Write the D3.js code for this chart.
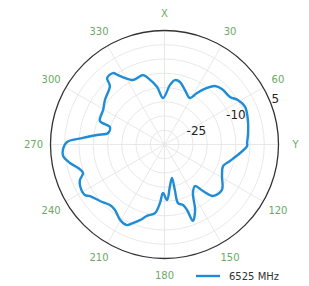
<!DOCTYPE html>
<html>
<head>
<meta charset="utf-8">
<script src="https://cdn.jsdelivr.net/npm/d3@7"></script>
<style>
  body { margin: 0; background: #fff; }
  svg { display: block; font-family: "DejaVu Sans", sans-serif; }
</style>
</head>
<body>
<svg id="chart" width="309" height="286"></svg>
<script>
// pattern: compass angle (deg, clockwise from X) and gain (dB)
const angles = [267, 271.5, 274.6, 278, 281.5, 287.8, 290, 299.3, 306.8, 317, 319.2, 324.2, 326.2, 329.3, 333.9, 342.8, 346.1, 352.6, 358.2,
  365.3, 369.2, 373.9, 380.6, 388.7, 392.3, 396.9, 400.8, 406, 414, 418.8, 425, 433.6, 442.2, 449, 451,
  456.4, 464.1, 470.2, 478.7, 488.4, 496.7, 500.4, 503.7, 509.6, 515, 519.6, 521, 523, 527, 527.2, 527.4, 532.5, 537.4,
  541.8, 544.4, 547.9, 553.8, 558, 561.9, 565, 570.5, 577.1, 582, 588.8, 595.3, 597.6, 603.8, 607.2, 610.7, 614.8, 618.9, 623.5];
const gains = [0.7, -0.8, -6.3, -11.1, -14.8, -14.9, -10.9, -10.3, -8.9, -6.9, -4.2, -4.1, -5.7, -7.9, -9.8, -9.5, -11.0, -14.6, -18.7,
  -14.0, -12.1, -12.4, -14.6, -16.4, -13.6, -10.2, -7.9, -7.0, -6.6, -4.9, -3.8, -4.5, -5.4, -6.0, -6.0,
  -8.3, -11.3, -13.1, -12.0, -9.3, -10.2, -13.8, -16.9, -15.3, -9.6, -6.4, -10.7, -12.8, -13.9, -18.6, -23.0, -20.3, -15.5,
  -18.0, -14.4, -10.7, -9.2, -7.1, -5.3, -3.8, -4.3, -6.2, -6.4, -4.9, -3.2, -1.9, -2.0, -2.8, -4.7, -3.6, -1.2, 0.8];

const ringValues = [-30, -25, -20, -15, -10, -5, 0];
const radialLabels = [5, -10, -25];
const angleTicks = [0, 30, 60, 90, 120, 150, 180, 210, 240, 270, 300, 330];
const angleNames = { 0: "X", 90: "Y" };
const seriesName = "6525 MHz";

const cx = 164.5, cy = 144.5, R = 114;
const svg = d3.select("#chart");
const g = svg.append("g").attr("transform", `translate(${cx},${cy})`);
const r = d3.scaleLinear().domain([-35, 5]).range([0, R]);
const rad = (d) => (d * Math.PI) / 180;

// rings and spokes
g.selectAll(".ring").data(ringValues).join("circle")
  .attr("r", (d) => r(d)).attr("fill", "none").attr("stroke", "#e2e2e2").attr("stroke-width", 0.8);
g.selectAll(".spoke").data(angleTicks).join("line")
  .attr("x1", 0).attr("y1", 0)
  .attr("x2", (d) => R * Math.sin(rad(d))).attr("y2", (d) => -R * Math.cos(rad(d)))
  .attr("stroke", "#e2e2e2").attr("stroke-width", 0.8);

// angle labels
g.selectAll(".alabel").data(angleTicks).join("text")
  .attr("x", (d) => 131 * Math.sin(rad(d)))
  .attr("y", (d) => -131 * Math.cos(rad(d)) + 3.5)
  .attr("text-anchor", "middle").attr("font-size", 10).attr("fill", "#6aaa64")
  .text((d) => angleNames[d] || d);

// the pattern
const pts = angles.map((a, i) => [rad(a), r(gains[i])]);
const line = d3.lineRadial().angle((d) => d[0]).radius((d) => d[1]).curve(d3.curveCatmullRomClosed.alpha(0.5));
g.append("path").attr("d", line(pts)).attr("fill", "none")
  .attr("stroke", "#1f8dd6").attr("stroke-width", 2.4).attr("stroke-linejoin", "round");

// outer frame
g.append("circle").attr("r", R).attr("fill", "none").attr("stroke", "#333").attr("stroke-width", 1.3);

// radial labels
g.selectAll(".rlabel").data(radialLabels).join("text")
  .attr("x", (d) => (r(d) + 6) * Math.sin(rad(67.5)))
  .attr("y", (d) => -(r(d) + 6) * Math.cos(rad(67.5)) + 4)
  .attr("text-anchor", "middle").attr("font-size", 12).attr("fill", "#222")
  .text((d) => d);

// legend
svg.append("line").attr("x1", 196).attr("x2", 220).attr("y1", 276).attr("y2", 276)
  .attr("stroke", "#1f8dd6").attr("stroke-width", 2.4);
svg.append("text").attr("x", 229).attr("y", 280).attr("font-size", 10).attr("fill", "#333").text(seriesName);
</script>
</body>
</html>
